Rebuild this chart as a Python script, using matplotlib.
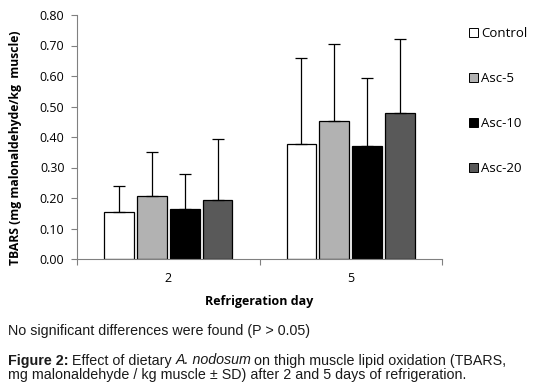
import matplotlib
matplotlib.use("Agg")
import matplotlib.pyplot as plt
import numpy as np
from matplotlib.patches import Patch

categories = ["2", "5"]
series = ["Control", "Asc-5", "Asc-10", "Asc-20"]
means = {
    "Control": [0.155, 0.376],
    "Asc-5": [0.207, 0.451],
    "Asc-10": [0.165, 0.371],
    "Asc-20": [0.192, 0.478],
}
sds = {
    "Control": [0.085, 0.282],
    "Asc-5": [0.145, 0.253],
    "Asc-10": [0.113, 0.221],
    "Asc-20": [0.200, 0.244],
}
colors = ["#ffffff", "#b2b2b2", "#000000", "#595959"]
yticks = [0.0, 0.1, 0.2, 0.3, 0.4, 0.5, 0.6, 0.7, 0.8]

chart_font = ["Open Sans", "DejaVu Sans"]
cap_font = ["Liberation Sans", "DejaVu Sans"]
W, H = 537, 392

fig = plt.figure(figsize=(5.37, 3.92), dpi=100)
ax = fig.add_axes([77 / W, 1 - 259 / H, 365 / W, 244 / H])

x = np.arange(len(categories))
step = 0.180
width = 0.164
for i, s in enumerate(series):
    pos = x + (i - 1.5) * step
    ax.bar(pos, means[s], width, color=colors[i], edgecolor="black",
           linewidth=0.9, zorder=2)
    ax.errorbar(pos, means[s], yerr=[np.zeros(len(categories)), sds[s]],
                fmt="none", ecolor="black", elinewidth=0.9, capsize=4.2,
                capthick=0.9, zorder=3)

ax.set_xlim(-0.5, 1.5)
ax.set_ylim(0, 0.8)
ax.set_yticks(yticks)
ax.set_yticklabels([f"{v:.2f}" for v in yticks], family=chart_font, fontsize=9)
ax.set_xticks([-0.5, 0.5, 1.5])
ax.set_xticklabels([])
ax.set_xticks(x, minor=True)
ax.set_xticklabels(categories, minor=True, family=chart_font, fontsize=9)
ax.tick_params(axis="x", which="minor", length=0, pad=9)
ax.tick_params(axis="x", which="major", length=4, width=0.8, color="#808080")
ax.tick_params(axis="y", length=4, width=0.8, color="#808080", pad=5)
for sp in ["top", "right"]:
    ax.spines[sp].set_visible(False)
for sp in ["left", "bottom"]:
    ax.spines[sp].set_color("#808080")
    ax.spines[sp].set_linewidth(0.8)

ax.set_xlabel("Refrigeration day", family=chart_font, fontsize=9,
              fontweight="bold", va="center")
ax.xaxis.set_label_coords(0.5, (259 - 301.5) / 244)
ax.set_ylabel("TBARS (mg malonaldehyde/kg  muscle)", family=chart_font,
              fontsize=8.7, fontweight="bold", va="center")
ax.yaxis.set_label_coords((16 - 77) / 365, (259 - 148) / 244)

handles = [Patch(facecolor=c, edgecolor="black", linewidth=0.7) for c in colors]
fig.legend(handles, series, loc="upper left", bbox_to_anchor=(469 / W, 1 - 27 / H),
           frameon=False, prop={"family": chart_font, "size": 9.5},
           handlelength=0.65, handleheight=0.65, handletextpad=0.25,
           labelspacing=2.42, borderaxespad=0, borderpad=0)

fs = 10.3
col = "#1a1a1a"
fig.text(8 / W, 1 - 335 / H, "No significant differences were found (P > 0.05)",
         family=cap_font, fontsize=fs, va="baseline", color=col)
yb = 1 - 364.5 / H
t1 = fig.text(8 / W, yb, "Figure 2:", family=cap_font,
              fontsize=fs, va="baseline", fontweight="bold", color=col)
fig.canvas.draw()
x1 = t1.get_window_extent().x1 / fig.bbox.width
t2 = fig.text(x1, yb, " Effect of dietary ", family=cap_font,
              fontsize=fs, va="baseline", color=col)
fig.canvas.draw()
x2 = t2.get_window_extent().x1 / fig.bbox.width
t3 = fig.text(x2, yb, "A. nodosum", family=cap_font, fontsize=fs,
              va="baseline", style="italic", color=col)
fig.canvas.draw()
x3 = (t3.get_window_extent().x1 - 2.5) / fig.bbox.width
fig.text(x3, yb, " on thigh muscle lipid oxidation (TBARS,",
         family=cap_font, fontsize=fs, va="baseline", color=col)
fig.text(8 / W, 1 - 379.5 / H,
         "mg malonaldehyde / kg muscle \u00b1 SD) after 2 and 5 days of refrigeration.",
         family=cap_font, fontsize=fs, va="baseline", color=col)

fig.savefig("out.png", dpi=100)
